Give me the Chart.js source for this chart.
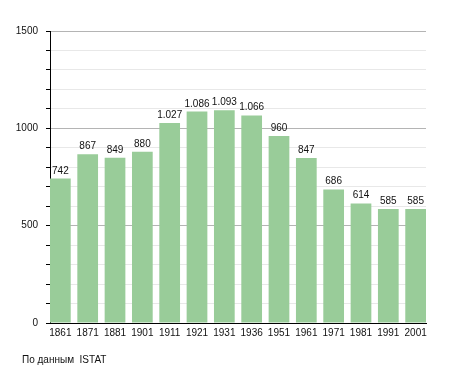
<!DOCTYPE html>
<html>
<head>
<meta charset="utf-8">
<script src="https://cdn.jsdelivr.net/npm/chart.js@4"></script>
<style>
  body { margin: 0; background: #fff; }
  #wrap { position: relative; width: 455px; height: 373px; }
  #source { position: absolute; left: 22px; top: 354px; font: 10px "Liberation Sans", Arial, sans-serif; color: #111; white-space: pre; }
</style>
</head>
<body>
<div id="wrap">
  <canvas id="popChart" width="455" height="373"></canvas>
  <div id="source">По данным  ISTAT</div>
</div>
<script>
// Population by census year
var years = ["1861", "1871", "1881", "1901", "1911", "1921", "1931", "1936", "1951", "1961", "1971", "1981", "1991", "2001"];
var population = [742, 867, 849, 880, 1027, 1086, 1093, 1066, 960, 847, 686, 614, 585, 585];
var yTicks = [0, 500, 1000, 1500];

var barColor = "rgb(153,204,153)";
var barPct = 0.758;

function fmt(v) {
  var s = String(v);
  return v >= 1000 ? s.slice(0, s.length - 3) + "." + s.slice(-3) : s;
}

// value labels above each bar
var barLabels = {
  id: "barLabels",
  afterDatasetsDraw: function(chart) {
    var ctx = chart.ctx;
    var meta = chart.getDatasetMeta(0);
    ctx.save();
    ctx.font = '10px "Liberation Sans", Arial, sans-serif';
    ctx.fillStyle = "#111";
    ctx.textAlign = "center";
    ctx.textBaseline = "alphabetic";
    meta.data.forEach(function(bar, i) {
      ctx.fillText(fmt(population[i]), bar.x, bar.y - 5);
    });
    ctx.restore();
  }
};

new Chart("popChart", {
  type: "bar",
  data: {
    datasets: [{
      backgroundColor: barColor,
      borderWidth: 0,
      barPercentage: barPct,
      categoryPercentage: 1,
      data: population.map(function(v, i) { return {x: i, y: v}; })
    }]
  },
  plugins: [barLabels],
  options: {
    responsive: false,
    animation: false,
    layout: {padding: {left: 0, top: 31, right: 29, bottom: 0}},
    plugins: {
      legend: {display: false},
      tooltip: {enabled: false}
    },
    scales: {
      x: {
        type: "linear",
        offset: false,
        min: -barPct / 2,
        max: years.length - 1 + barPct / 2,
        afterBuildTicks: function(scale) {
          scale.ticks = years.map(function(y, i) { return {value: i}; });
        },
        afterFit: function(scale) { scale.height = 50; },
        grid: {display: true, offset: false, drawOnChartArea: false, drawTicks: false},
        border: {display: true, color: "#000", width: 1},
        ticks: {
          autoSkip: false,
          maxRotation: 0,
          padding: 4,
          color: "#111",
          font: {family: '"Liberation Sans", Arial, sans-serif', size: 10},
          callback: function(v) { return years[v]; }
        }
      },
      y: {
        min: 0,
        max: 1500,
        afterFit: function(scale) { scale.width = 50; },
        grid: {
          color: function(c) { return c.tick && c.tick.value % 500 === 0 ? "#b4b4b4" : "#e8e8e8"; },
          tickColor: "#000",
          tickLength: 4
        },
        border: {display: true, color: "#000", width: 1},
        ticks: {
          stepSize: 100,
          padding: 8,
          color: "#111",
          font: {family: '"Liberation Sans", Arial, sans-serif', size: 10},
          callback: function(v) { return yTicks.indexOf(v) >= 0 ? String(v) : ""; }
        }
      }
    }
  }
});
</script>
</body>
</html>
